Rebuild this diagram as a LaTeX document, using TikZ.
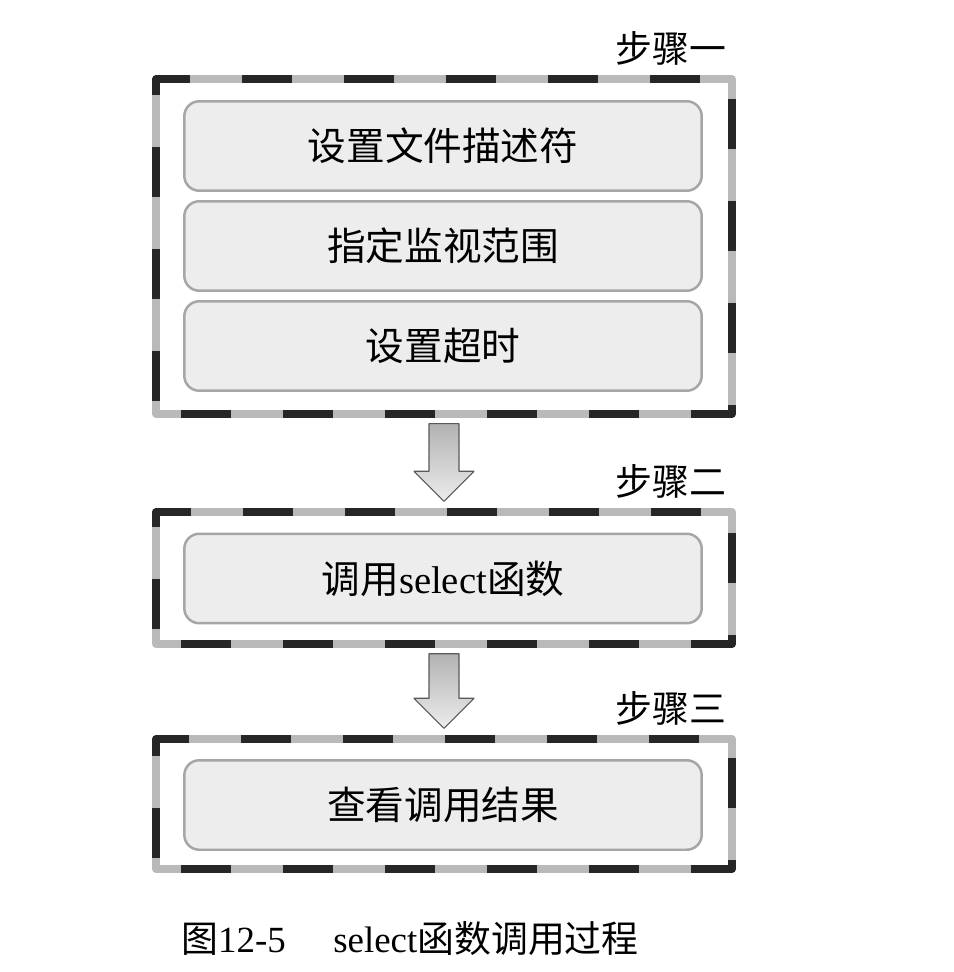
\documentclass[tikz,border=0pt]{standalone}
\usepackage{fontspec}
\setmainfont{Liberation Serif}
\newfontfamily\cjk{Noto Sans CJK SC}
\usetikzlibrary{calc}

\begin{document}
\begin{tikzpicture}[x=0.02cm, y=-0.02cm, line join=round]

	\tikzset{stepbox/.style={draw=gray!55, line width=0.15cm, fill=white, minimum width=11.52cm, inner sep=0pt,
			postaction={draw=black!85, line width=0.15cm, dash pattern=on 1cm off 1.04cm, dash phase=1.54cm}},
		taskbox/.style={draw=gray!70, line width=0.05cm, fill=gray!14, rounded corners=0.3cm,
			minimum width=10.35cm, minimum height=1.79cm, font=\cjk\fontsize{22}{26}\selectfont},
		steplabel/.style={anchor=south east, inner sep=0pt, font=\cjk\fontsize{21}{24}\selectfont},
		fatarrow/.style={draw=gray!70!black, line width=0.6pt, top color=gray!60, bottom color=gray!15}}

	\useasboundingbox (0,0) rectangle (953,972);

	\node[stepbox, minimum height=6.7cm] (step1) at (444,246.5) {};
	\node[stepbox, minimum height=2.64cm] (step2) at (444,578) {};
	\node[stepbox, minimum height=2.6cm] (step3) at (444,804) {};

	\foreach \i/\y/\t in {1/146/设置文件描述符, 2/246/指定监视范围, 3/346/设置超时}
	\node[taskbox] (task\i) at (443,\y) {\t};
	\node[taskbox] (task4) at (443,578.5) {调用{\rmfamily select}函数};
	\node[taskbox] (task5) at (443,805) {查看调用结果};

	\node[steplabel] (label1) at ($(step1.north east)+(-9,-10)$) {步骤一};
	\node[steplabel] (label2) at ($(step2.north east)+(-9,-10)$) {步骤二};
	\node[steplabel] (label3) at ($(step3.north east)+(-9,-10)$) {步骤三};

	\foreach \a/\b in {step1/step2, step2/step3}{
		\coordinate (s) at ($(\a.south)+(0,6)$);
		\coordinate (t) at ($(\b.north)+(0,-7)$);
		\draw[fatarrow] ($(s)+(-15,0)$) -- ($(s)+(15,0)$) -- ($(t)+(15,-30)$) -- ($(t)+(30,-30)$)
		-- (t) -- ($(t)+(-30,-30)$) -- ($(t)+(-15,-30)$) -- cycle;
	}

	\node[font=\fontsize{21}{24}\selectfont] (caption) at (410,939) {{\cjk 图}12-5\hspace{0.95cm}select{\cjk 函数调用过程}};
\end{tikzpicture}
\end{document}
